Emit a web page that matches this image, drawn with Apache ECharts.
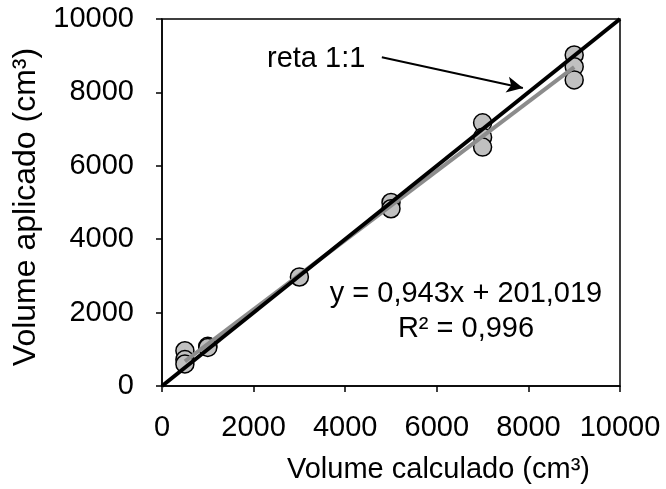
<!DOCTYPE html>
<html>
<head>
<meta charset="utf-8">
<script src="https://cdn.jsdelivr.net/npm/echarts@6/dist/echarts.min.js"></script>
<style>
  html, body { margin: 0; padding: 0; background: #fff; }
  #chart { width: 666px; height: 489px; }
</style>
</head>
<body>
<div id="chart"></div>
<script>
// pontos medidos: [volume calculado, volume aplicado]
const pontos = [
  [500, 960], [500, 720], [500, 600],
  [1000, 1080], [1000, 1050],
  [3000, 2970],
  [5000, 5000], [5000, 4830],
  [7000, 7170], [7000, 6780], [7000, 6510],
  [9000, 9020], [9000, 8700], [9000, 8340]
]
// linha de tendência (extremos)
const tendencia = [[500, 673], [9000, 8688]]
const reta11 = [[0, 0], [10000, 10000]]
const seta = [[4800, 8960], [7880, 8120]]

const chart = echarts.init(document.getElementById('chart'))
const fonte = 'Liberation Sans, Arial, sans-serif'
const tam = 29

chart.setOption({
  animation: false,
  grid: {
    left: 162,
    right: 46,
    top: 19,
    bottom: 103,
    show: true,
    borderColor: '#000',
    borderWidth: 1.5
  },
  graphic: [
    {
      type: 'text',
      left: 287,
      top: 455,
      style: { text: 'Volume calculado (cm³)', font: tam + 'px ' + fonte, fill: '#000' }
    },
    {
      type: 'text',
      x: 26,
      y: 207,
      rotation: Math.PI / 2,
      style: {
        text: 'Volume aplicado (cm³)',
        font: '32px ' + fonte,
        fill: '#000',
        align: 'center',
        verticalAlign: 'middle'
      }
    },
    {
      type: 'text',
      left: 267,
      top: 44,
      style: { text: 'reta 1:1', font: tam + 'px ' + fonte, fill: '#000' }
    },
    {
      type: 'text',
      x: 466,
      y: 276,
      style: {
        text: 'y = 0,943x + 201,019\nR² = 0,996',
        font: tam + 'px ' + fonte,
        lineHeight: 35,
        fill: '#000',
        align: 'center'
      }
    }
  ],
  xAxis: {
    type: 'value',
    min: 0,
    max: 10000,
    interval: 2000,
    axisLine: { show: true, onZero: false, lineStyle: { color: '#000', width: 1.5 } },
    axisTick: { show: true, length: 6, lineStyle: { color: '#000', width: 1.5 } },
    axisLabel: {
      fontFamily: fonte, fontSize: tam, color: '#000', margin: 27,
      formatter: v => String(v)
    },
    splitLine: { show: false }
  },
  yAxis: {
    type: 'value',
    min: 0,
    max: 10000,
    interval: 2000,
    axisLine: { show: true, onZero: false, lineStyle: { color: '#000', width: 1.5 } },
    axisTick: { show: true, length: 6, lineStyle: { color: '#000', width: 1.5 } },
    axisLabel: {
      fontFamily: fonte, fontSize: tam, color: '#000', margin: 28,
      formatter: v => String(v)
    },
    splitLine: { show: false }
  },
  series: [
    {
      type: 'scatter',
      data: pontos,
      symbol: 'circle',
      symbolSize: 18,
      z: 1,
      itemStyle: { color: '#c0c0c0', borderColor: '#000', borderWidth: 1.5, opacity: 1 }
    },
    {
      type: 'line',
      data: tendencia,
      symbol: 'none',
      z: 2,
      lineStyle: { color: '#8c8c8c', width: 4 }
    },
    {
      type: 'line',
      data: reta11,
      symbol: 'none',
      z: 3,
      lineStyle: { color: '#000', width: 4 }
    },
    {
      type: 'line',
      data: [],
      symbol: 'none',
      z: 4,
      markLine: {
        silent: true,
        symbol: ['none', 'arrow'],
        symbolSize: [12, 16],
        label: { show: false },
        lineStyle: { color: '#000', width: 2, type: 'solid' },
        data: [[{ coord: seta[0] }, { coord: seta[1] }]]
      }
    }
  ]
})
</script>
</body>
</html>
